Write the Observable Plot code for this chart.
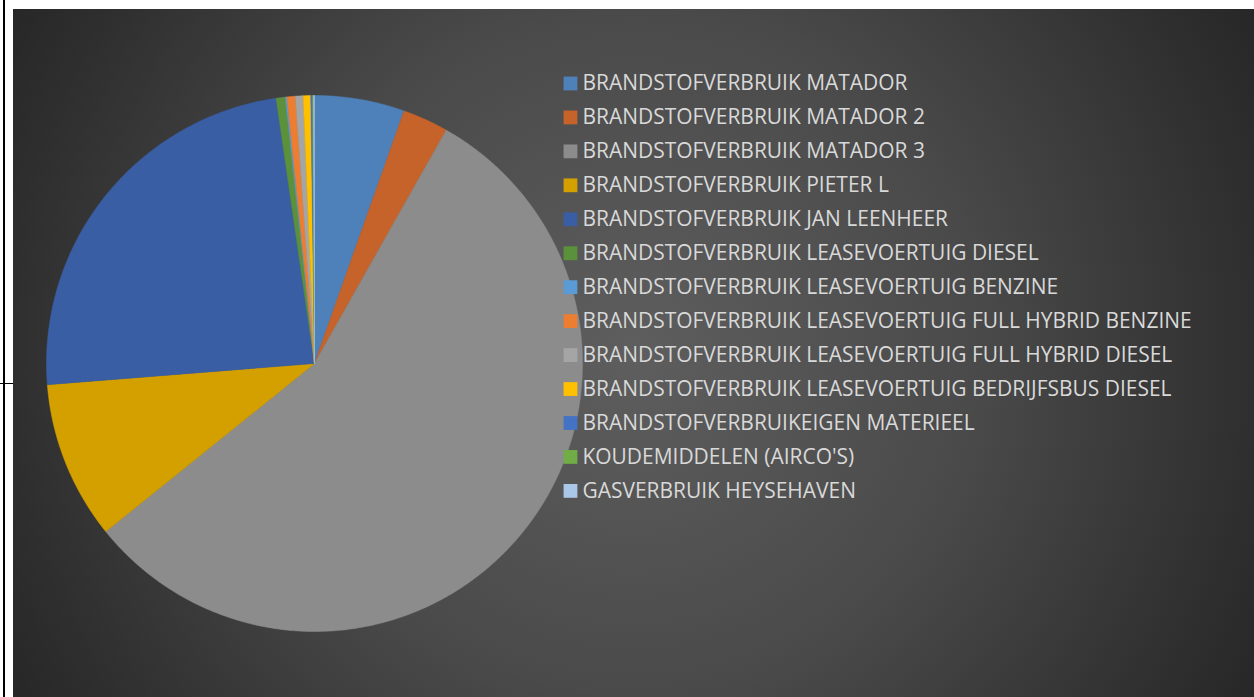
<!DOCTYPE html>
<html>
<head>
<meta charset="utf-8">
<script src="https://cdn.jsdelivr.net/npm/d3@7"></script>
<script src="https://cdn.jsdelivr.net/npm/@observablehq/plot@0.6"></script>
<style>
  html, body { margin: 0; padding: 0; background: #ffffff; }
  body { width: 1254px; height: 697px; position: relative; overflow: hidden; font-family: "Open Sans", sans-serif; }
  #vline { position: absolute; left: 3px; top: 0; width: 2px; height: 697px; background: #000; }
  #hline { position: absolute; left: 0; top: 383px; width: 13px; height: 1px; background: #000; }
  #chart { position: absolute; left: 13px; top: 9px; width: 1241px; height: 688px;
    background: radial-gradient(circle at 620px 344px, #5e5e5e 0px, #4a4a4a 340px, #2f2f2f 620px, #262626 720px); }
  #pie { position: absolute; left: 0; top: 0; }
  #legend { position: absolute; left: 542px; top: 56px; }
</style>
</head>
<body>
<div id="vline"></div>
<div id="hline"></div>
<div id="chart"><div id="pie"></div><div id="legend"></div></div>
<script>
const categories = [
  "BRANDSTOFVERBRUIK MATADOR",
  "BRANDSTOFVERBRUIK MATADOR 2",
  "BRANDSTOFVERBRUIK MATADOR 3",
  "BRANDSTOFVERBRUIK PIETER L",
  "BRANDSTOFVERBRUIK JAN LEENHEER",
  "BRANDSTOFVERBRUIK LEASEVOERTUIG DIESEL",
  "BRANDSTOFVERBRUIK LEASEVOERTUIG BENZINE",
  "BRANDSTOFVERBRUIK LEASEVOERTUIG FULL HYBRID BENZINE",
  "BRANDSTOFVERBRUIK LEASEVOERTUIG FULL HYBRID DIESEL",
  "BRANDSTOFVERBRUIK LEASEVOERTUIG BEDRIJFSBUS DIESEL",
  "BRANDSTOFVERBRUIKEIGEN MATERIEEL",
  "KOUDEMIDDELEN (AIRCO'S)",
  "GASVERBRUIK HEYSEHAVEN"
];
const values = [5.42, 2.76, 56.03, 9.53, 23.97, 0.55, 0.10, 0.50, 0.47, 0.45, 0.10, 0.06, 0.06];
const colors = ["#4e81b9", "#c5632b", "#8c8c8c", "#d4a000", "#395ea4", "#5c913c", "#5b9bd5", "#ed7d31", "#a5a5a5", "#ffc000", "#4472c4", "#70ad47", "#aac6e8"];

// Slice outlines computed from the values (d3.pie: 0 at 12 o'clock, clockwise)
const arcs = d3.pie().sort(null)(values);
const pts = arcs.flatMap((a, i) => {
  const cat = categories[i];
  const n = Math.max(2, Math.ceil((a.endAngle - a.startAngle) / (Math.PI / 360)));
  const out = [{cat, x: 0, y: 0}];
  for (let k = 0; k <= n; k++) {
    const t = a.startAngle + (a.endAngle - a.startAngle) * k / n;
    out.push({cat, x: Math.sin(t), y: Math.cos(t)});
  }
  out.push({cat, x: 0, y: 0});
  return out;
});

const colorScale = {domain: categories, range: colors};

const pie = Plot.plot({
  width: 580, height: 688,
  marginLeft: 33, marginRight: 11, marginTop: 86, marginBottom: 66,
  x: {domain: [-1, 1], axis: null},
  y: {domain: [-1, 1], axis: null},
  color: colorScale,
  style: {background: "transparent", overflow: "visible"},
  marks: [
    Plot.line(pts, {x: "x", y: "y", z: "cat", fill: "cat", stroke: "cat", strokeWidth: 0.5, curve: "linear"})
  ]
});
document.getElementById("pie").append(pie);

const legend = Plot.plot({
  width: 700, height: 444,
  margin: 0,
  x: {axis: null, domain: [0, 1]},
  y: {type: "point", domain: categories, axis: null, padding: 0.5},
  color: colorScale,
  style: {background: "transparent", fontFamily: "Open Sans", overflow: "visible"},
  marks: [
    Plot.dot(categories, {y: d => d, frameAnchor: "left", dx: 15, symbol: "square", r: 7.8, fill: d => d, stroke: null}),
    Plot.text(categories, {y: d => d, frameAnchor: "left", dx: 27, text: d => d, textAnchor: "start", fill: "#d9d9d9", fontSize: 21})
  ]
});
document.getElementById("legend").append(legend);
</script>
</body>
</html>
